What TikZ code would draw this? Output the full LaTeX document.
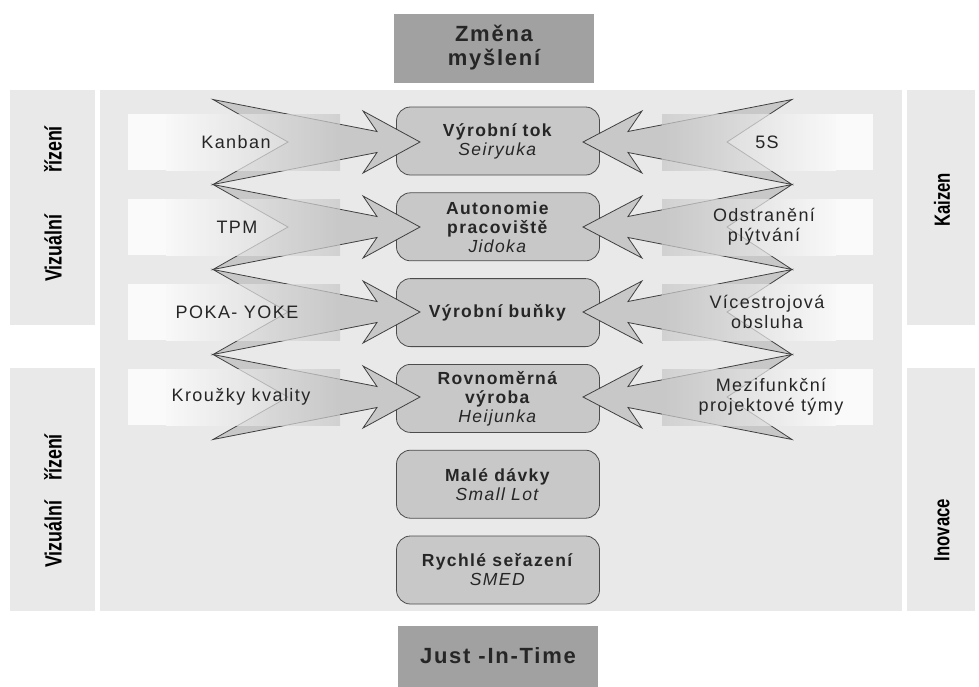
\documentclass[tikz,border=0pt]{standalone}
\usepackage{fontspec}
\setmainfont{Liberation Sans}[LetterSpace=8]
\newfontfamily\barfont{Liberation Sans}[FakeStretch=0.76]
\usetikzlibrary{positioning}
\definecolor{bggray}{RGB}{233,233,233}
\definecolor{boxgray}{RGB}{200,200,200}
\definecolor{topgray}{RGB}{161,161,161}
\definecolor{inkgray}{RGB}{38,38,38}

\begin{document}
\begin{tikzpicture}[x=1pt,y=-1pt]
\tikzstyle{every node}=[text=inkgray]
\tikzstyle{stage}=[draw=black!70, line width=0.8pt, fill=boxgray, rounded corners=14pt,
  minimum width=203pt, minimum height=68pt, align=center, font=\fontsize{17.5}{19}\selectfont]
\tikzstyle{headbox}=[fill=topgray, minimum width=200pt, align=center,
  font=\bfseries\fontsize{22}{24}\selectfont]
\tikzstyle{item}=[align=center, font=\fontsize{18}{20}\selectfont]
\tikzstyle{bartext}=[rotate=90, text=black, font=\barfont\bfseries\fontsize{22}{22}\selectfont]
\tikzstyle{bigarrow}=[fill=boxgray, draw=black!75, line width=0.8pt, line join=miter]

\useasboundingbox (0,0) rectangle (979,686);

% background and side pillars
\fill[bggray] (100,90) rectangle (902,611);
\fill[bggray] (10,90) rectangle (95,325);
\fill[bggray] (10,368) rectangle (95,611);
\fill[bggray] (907,90) rectangle (975,325);
\fill[bggray] (907,368) rectangle (975,611);

\node[headbox, minimum height=69pt] (Zmena) at (494,48) {Změna\\myšlení};
\node[headbox, minimum height=61pt] (Jit) at (498,656) {Just -In-Time};

\node[stage] (Tok) at (498,141) {\textbf{Výrobní tok}\\\textit{Seiryuka}};
\node[stage, below=17pt of Tok] (Jidoka) {\textbf{Autonomie}\\\textbf{pracoviště}\\\textit{Jidoka}};
\node[stage, below=17pt of Jidoka] (Bunky) {\textbf{Výrobní buňky}};
\node[stage, below=17pt of Bunky] (Heijunka) {\textbf{Rovnoměrná}\\\textbf{výroba}\\\textit{Heijunka}};
\node[stage, below=17pt of Heijunka] (Lot) {\textbf{Malé dávky}\\\textit{Small Lot}};
\node[stage, below=17pt of Lot] (Smed) {\textbf{Rychlé seřazení}\\\textit{SMED}};

\foreach \y in {142,227,312,397}{
  \filldraw[bigarrow] (213,\y-42.5) -- (377,\y-10.5) -- (363,\y-31) -- (420,\y)
    -- (363,\y+31) -- (377,\y+10.5) -- (213,\y+42.5) -- (288,\y) -- cycle;
  \filldraw[bigarrow] (792,\y-42.5) -- (628,\y-10.5) -- (642,\y-31) -- (583,\y)
    -- (642,\y+31) -- (628,\y+10.5) -- (792,\y+42.5) -- (727,\y) -- cycle;
  \fill[white, opacity=0.8] (128,\y-28) rectangle (166,\y+28);
  \shade[left color=white, right color=boxgray, opacity=0.72] (166,\y-28) rectangle (340,\y+28);
  \shade[left color=boxgray, right color=white, opacity=0.72] (662,\y-28) rectangle (836,\y+28);
  \fill[white, opacity=0.8] (836,\y-28) rectangle (873,\y+28);
}

\node[item] (Kanban) at (236,142) {Kanban};
\node[item] (Tpm) at (237,227) {TPM};
\node[item] (Poka) at (237,312) {POKA- YOKE};
\node[item] (Krouzky) at (241,397) {Kroužky kvality};
\node[item] (Pet) at (767,142) {5S};
\node[item] (Plytvani) at (764,227) {Odstranění\\plýtvání};
\node[item] (Obsluha) at (767,312) {Vícestrojová\\obsluha};
\node[item] (Tymy) at (771,397) {Mezifunkční\\projektové týmy};

\node[bartext, font=\barfont\bfseries\fontsize{23.5}{23.5}\selectfont] (VizA) at (53,204) {Vizuální\hspace{42pt}řízení};
\node[bartext, font=\barfont\bfseries\fontsize{23.5}{23.5}\selectfont] (VizB) at (53,501) {Vizuální\hspace{20pt}řízení};
\node[bartext] (Kaizen) at (942,200) {Kaizen};
\node[bartext] (Inovace) at (942,530) {Inovace};

\end{tikzpicture}
\end{document}
